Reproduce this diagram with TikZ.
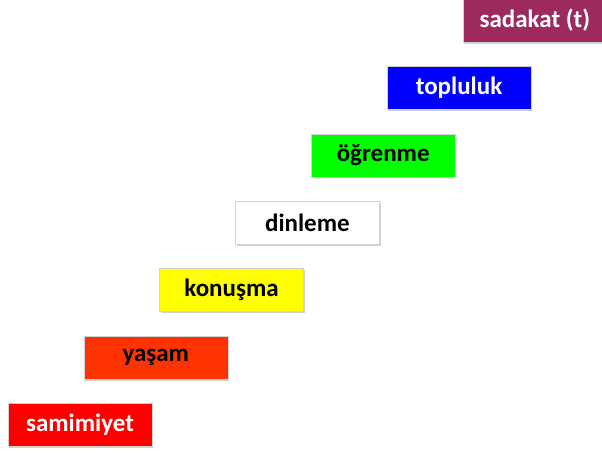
\documentclass[tikz,border=0pt]{standalone}
\usepackage{fontspec}
\setmainfont{Carlito}
\usetikzlibrary{shadows}

\definecolor{stepred}{RGB}{255,0,0}
\definecolor{steporange}{RGB}{255,51,0}
\definecolor{stepyellow}{RGB}{255,255,0}
\definecolor{stepwhite}{RGB}{255,255,255}
\definecolor{stepgreen}{RGB}{0,255,0}
\definecolor{stepblue}{RGB}{0,0,255}
\definecolor{steppurple}{RGB}{156,42,94}

\tikzset{
	stair/.style={rectangle, minimum width=144pt, minimum height=43pt, inner sep=0pt,
		draw=gray!35, line width=0.6pt, font=\fontsize{25}{30}\selectfont\bfseries,
		drop shadow={shadow xshift=1.2pt, shadow yshift=-1.5pt, fill=black, opacity=0.18}}
}

\begin{document}
\begin{tikzpicture}[x=1pt,y=-1pt]
		
		\useasboundingbox (0,0) rectangle (602,453);
		\clip (0,0) rectangle (602,453);
		
		\foreach \i/\word/\boxc/\textc in {
			0/samimiyet/stepred/white,
			1/yaşam/steporange/black,
			2/konuşma/stepyellow/black,
			3/dinleme/stepwhite/black,
			4/öğrenme/stepgreen/black,
			5/topluluk/stepblue/white,
			6/sadakat (t)/steppurple/white}
		\node[stair, fill=\boxc, text=\textc] (box\i) at (80+75.8*\i, 425-67.4*\i) {\word};
		
	\end{tikzpicture}
\end{document}
